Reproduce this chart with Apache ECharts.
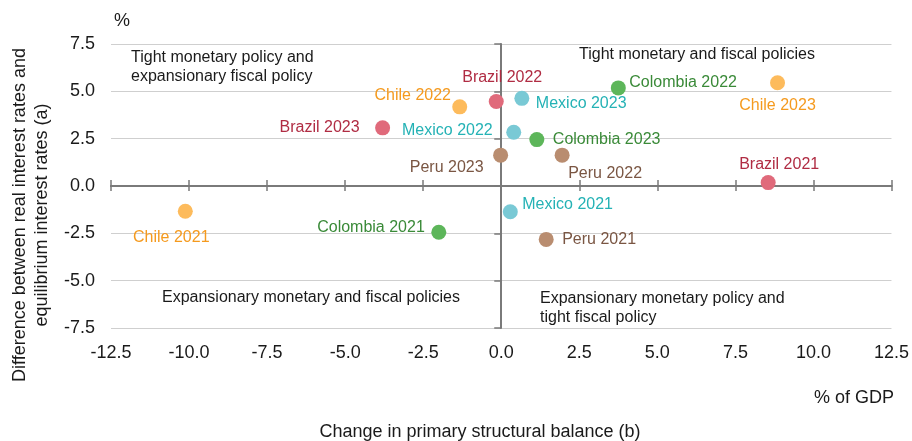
<!DOCTYPE html>
<html>
<head>
<meta charset="utf-8">
<script src="https://cdn.jsdelivr.net/npm/echarts@6/dist/echarts.min.js"></script>
<style>
  html, body { margin: 0; padding: 0; background: #fff; }
  #chart { width: 912px; height: 441px; }
</style>
</head>
<body>
<div id="chart"></div>
<script>
// years shown for every country
const years = ['2021', '2022', '2023'];

// change in primary structural balance (x) and rate gap (y), by year
const brazilX = [8.55, -0.16, -3.8];
const brazilY = [0.18, 4.46, 3.07];
const chileX = [-10.12, -1.33, 8.85];
const chileY = [-1.33, 4.18, 5.45];
const colombiaX = [-2.0, 3.75, 1.14];
const colombiaY = [-2.44, 5.18, 2.45];
const mexicoX = [0.29, 0.4, 0.66];
const mexicoY = [-1.36, 2.84, 4.63];
const peruX = [1.44, 1.95, -0.02];
const peruY = [-2.82, 1.63, 1.63];

// axis ticks
const xTicks = [-12.5, -10, -7.5, -5, -2.5, 0, 2.5, 5, 7.5, 10, 12.5];
const yTicks = [-7.5, -5, -2.5, 0, 2.5, 5, 7.5];

const countries = [
  { name: 'Brazil', x: brazilX, y: brazilY, dot: '#E06A7B', text: '#B02C43' },
  { name: 'Chile', x: chileX, y: chileY, dot: '#FDBB5C', text: '#F59A1E' },
  { name: 'Colombia', x: colombiaX, y: colombiaY, dot: '#5DB65A', text: '#3A8A38' },
  { name: 'Mexico', x: mexicoX, y: mexicoY, dot: '#79C9D5', text: '#24B2B5' },
  { name: 'Peru', x: peruX, y: peruY, dot: '#B98D70', text: '#7A5643' },
];

// label placement next to each dot: [dx, dy, align]
const labelPos = {
  'Chile 2021': [-14, 26, 'center'],
  'Colombia 2021': [-14, -5, 'right'],
  'Brazil 2023': [-23, 0, 'right'],
  'Chile 2022': [-47, -11, 'center'],
  'Brazil 2022': [6, -24, 'center'],
  'Mexico 2023': [14, 5, 'left'],
  'Mexico 2022': [-21, -2, 'right'],
  'Colombia 2023': [16, 0, 'left'],
  'Peru 2023': [-17, 12, 'right'],
  'Peru 2022': [43, 18, 'center'],
  'Colombia 2022': [11, -5, 'left'],
  'Chile 2023': [0, 23, 'center'],
  'Brazil 2021': [11, -18, 'center'],
  'Mexico 2021': [12, -7, 'left'],
  'Peru 2021': [16, 0, 'left'],
};

const FONT = '"Liberation Sans", Arial, sans-serif';
const xMin = xTicks[0], xMax = xTicks[xTicks.length - 1];
const yMin = yTicks[0], yMax = yTicks[yTicks.length - 1];
const axisGray = '#7a7a7a';

const chart = echarts.init(document.getElementById('chart'), null, { renderer: 'canvas' });

const series = countries.map(c => ({
  type: 'scatter',
  name: c.name,
  xAxisIndex: 0,
  yAxisIndex: 0,
  symbolSize: 15,
  itemStyle: { color: c.dot, opacity: 1 },
  z: 5,
  data: years.map((yr, i) => {
    const nm = c.name + ' ' + yr;
    const p = labelPos[nm];
    return {
      name: nm,
      value: [c.x[i], c.y[i]],
      label: {
        show: true,
        position: 'inside',
        offset: [p[0], p[1]],
        align: p[2],
        verticalAlign: 'middle',
        formatter: '{b}',
        color: c.text,
        fontSize: 16,
        fontFamily: FONT,
      },
    };
  }),
}));

const zeroX = (inside, len, showLine) => ({
  type: 'value', min: xMin, max: xMax, interval: 2.5,
  axisLine: { show: showLine, onZero: true, onZeroAxisIndex: 0, lineStyle: { color: axisGray, width: 2 } },
  axisTick: { show: true, inside: inside, length: len, lineStyle: { color: axisGray, width: 1.5 } },
  axisLabel: { show: false },
  splitLine: { show: false },
});

const option = {
  animation: false,
  backgroundColor: '#fff',
  textStyle: { fontFamily: FONT },
  grid: { left: 111, right: 20, top: 44, bottom: 113, containLabel: false },
  xAxis: [
    {
      type: 'value', min: xMin, max: xMax, interval: 2.5, position: 'bottom',
      axisLine: { show: false, onZero: false },
      axisTick: { show: false },
      splitLine: { show: false },
      axisLabel: { margin: 16, fontSize: 18, color: '#1a1a1a', fontFamily: FONT, formatter: v => v.toFixed(1) },
    },
    zeroX(false, 6, true),
    zeroX(true, 5, true),
  ],
  yAxis: [
    {
      type: 'value', min: yMin, max: yMax, interval: 2.5, position: 'left',
      axisLine: { show: false, onZero: false },
      axisTick: { show: false },
      splitLine: { show: true, lineStyle: { color: '#cfcfcf', width: 1 } },
      axisLabel: { margin: 16, fontSize: 18, color: '#1a1a1a', fontFamily: FONT, formatter: v => v.toFixed(1) },
    },
    {
      type: 'value', min: yMin, max: yMax, interval: 2.5,
      axisLine: { show: true, onZero: true, onZeroAxisIndex: 0, lineStyle: { color: axisGray, width: 2 } },
      axisTick: { show: true, inside: true, length: 7, lineStyle: { color: axisGray, width: 1.5 } },
      axisLabel: { show: false },
      splitLine: { show: false },
    },
  ],
  graphic: [
    { type: 'text', left: 114, top: 12, style: { text: '%', fontSize: 18, fill: '#1a1a1a', fontFamily: FONT } },
    {
      type: 'text', x: 31, y: 215, rotation: Math.PI / 2,
      style: {
        text: 'Difference between real interest rates and\nequilibrium interest rates (a)',
        fontSize: 18, lineHeight: 22, fill: '#1a1a1a', fontFamily: FONT,
        align: 'center', verticalAlign: 'middle',
      },
    },
    { type: 'text', x: 894, y: 398, style: { text: '% of GDP', fontSize: 18, fill: '#1a1a1a', fontFamily: FONT, align: 'right', verticalAlign: 'middle' } },
    { type: 'text', x: 480, y: 432, style: { text: 'Change in primary structural balance (b)', fontSize: 18, fill: '#1a1a1a', fontFamily: FONT, align: 'center', verticalAlign: 'middle' } },
    { type: 'text', x: 131, y: 67, style: { text: 'Tight monetary policy and\nexpansionary fiscal policy', fontSize: 16, lineHeight: 19, fill: '#1a1a1a', fontFamily: FONT, align: 'left', verticalAlign: 'middle' } },
    { type: 'text', x: 697, y: 55, style: { text: 'Tight monetary and fiscal policies', fontSize: 16, fill: '#1a1a1a', fontFamily: FONT, align: 'center', verticalAlign: 'middle' } },
    { type: 'text', x: 162, y: 298, style: { text: 'Expansionary monetary and fiscal policies', fontSize: 16, fill: '#1a1a1a', fontFamily: FONT, align: 'left', verticalAlign: 'middle' } },
    { type: 'text', x: 540, y: 308, style: { text: 'Expansionary monetary policy and\ntight fiscal policy', fontSize: 16, lineHeight: 19, fill: '#1a1a1a', fontFamily: FONT, align: 'left', verticalAlign: 'middle' } },
  ],
  series: series,
};

chart.setOption(option);
</script>
</body>
</html>
